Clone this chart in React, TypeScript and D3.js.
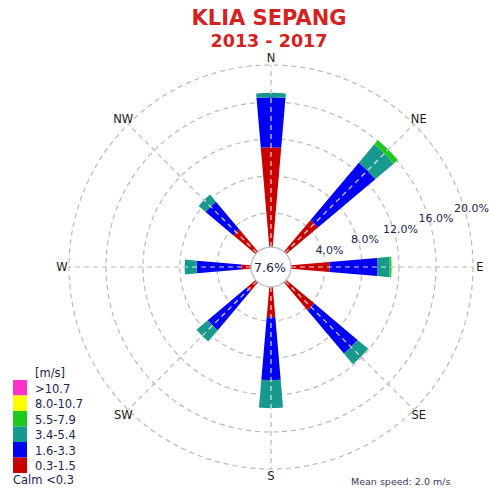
import React from 'react';
import * as d3 from 'd3';

const directions = ["N", "NE", "E", "SE", "S", "SW", "W", "NW"];
// % frequency per direction, one array per speed class (m/s)
const calm03 = 7.6;
const spd03_15 = [11.1, 4.8, 4.5, 4.3, 3.6, 1.6, 1.4, 3.5];
const spd16_33 = [5.4, 8.1, 5.2, 6.1, 6.8, 5.5, 4.8, 3.9];
const spd34_54 = [0.5, 2.6, 1.3, 1.5, 3.0, 1.6, 1.3, 1.0];
const spd55_79 = [0, 0.6, 0.2, 0, 0, 0, 0, 0];
const spd80_107 = [0, 0, 0, 0, 0, 0, 0, 0];
const spd107 = [0, 0, 0, 0, 0, 0, 0, 0];
const binLabels = ["0.3-1.5", "1.6-3.3", "3.4-5.4", "5.5-7.9", "8.0-10.7", ">10.7"];
const binColors = ["#c80000", "#0000f5", "#17998d", "#1ec81e", "#ffff00", "#ff33cc"];
const ringTicks = [4, 8, 12, 16, 20];
const meanSpeed = "2.0";

const W = 489, H = 490;
const cx = 271, cy = 267;
const calmR = 20;
const textCol = "#22224e";
const font = "DejaVu Sans, sans-serif";

export default function App() {
  const r = d3.scaleLinear().domain([0, 20]).range([17, 202]);
  const ang = d3.scaleLinear().domain([0, 8]).range([0, 2 * Math.PI]);
  const half = (9.8 / 2) * Math.PI / 180;
  const bins = [spd03_15, spd16_33, spd34_54, spd55_79, spd80_107, spd107];
  const arc = d3.arc();

  const pt = (a: number, rad: number) => [cx + rad * Math.sin(a), cy - rad * Math.cos(a)];

  const petals: any[] = [];
  directions.forEach((d, i) => {
    let base = 0;
    bins.forEach((b, j) => {
      const v = b[i];
      if (v <= 0) return;
      petals.push({
        key: d + j,
        path: arc({
          innerRadius: r(base),
          outerRadius: r(base + v),
          startAngle: ang(i) - half,
          endAngle: ang(i) + half,
        } as any),
        color: binColors[j],
      });
      base += v;
    });
  });
  const totals = directions.map((d, i) => d3.sum(bins, b => b[i]));

  const labelR = 209;
  const ringLabelA = (73.5 * Math.PI) / 180;

  return (
    <svg width={W} height={H} style={{ position: "absolute", left: 0, top: 0, background: "#fff" }}
      fontFamily={font}>
      <text x={269} y={25} textAnchor="middle" fontSize={21} fontWeight="bold" fill="#d42222">KLIA SEPANG</text>
      <text x={269} y={47} textAnchor="middle" fontSize={17.5} fontWeight="bold" fill="#d42222">2013 - 2017</text>

      {/* grid */}
      <g fill="none" stroke="#b8b8b8" strokeWidth={1.2} strokeDasharray="5,4">
        {ringTicks.map(t => <circle key={t} cx={cx} cy={cy} r={r(t)} />)}
        {directions.map((d, i) => {
          const [x1, y1] = pt(ang(i), calmR);
          const [x2, y2] = pt(ang(i), r(20));
          return <line key={d} x1={x1} y1={y1} x2={x2} y2={y2} />;
        })}
      </g>

      {/* petals */}
      <g transform={`translate(${cx},${cy})`}>
        {petals.map(p => <path key={p.key} d={p.path} fill={p.color} />)}
      </g>
      <g fill="none" stroke="#ffffff" strokeOpacity={0.85} strokeWidth={1.2} strokeDasharray="5,4">
        {directions.map((d, i) => {
          const [x1, y1] = pt(ang(i), calmR);
          const [x2, y2] = pt(ang(i), r(totals[i]));
          return <line key={d} x1={x1} y1={y1} x2={x2} y2={y2} />;
        })}
      </g>

      <circle cx={cx} cy={cy} r={calmR} fill="#fff" stroke="#bdbdbd" strokeWidth={1.3} />
      <text x={cx - 1} y={cy + 4.5} textAnchor="middle" fontSize={12.5} fill={textCol}>{calm03}%</text>

      {/* direction labels */}
      {directions.map((d, i) => {
        const [x, y] = pt(ang(i), labelR);
        return <text key={d} x={x} y={y + 4} textAnchor="middle" fontSize={11.5} fill="#1a1a1a">{d}</text>;
      })}

      {/* ring labels */}
      {ringTicks.map(t => {
        const [x, y] = pt(ringLabelA, r(t) + 7);
        return <text key={t} x={x} y={y + 4} textAnchor="middle" fontSize={11} fill={textCol}>{t.toFixed(1)}%</text>;
      })}

      {/* legend */}
      <text x={35} y={377} fontSize={11.5} fill={textCol}>[m/s]</text>
      {binLabels.slice().reverse().map((l, k) => {
        const j = binLabels.length - 1 - k;
        const y0 = 380 + k * 15.5;
        return (
          <g key={l}>
            <rect x={13} y={y0} width={14} height={15.5} fill={binColors[j]} />
            <text x={35} y={y0 + 12.5} fontSize={11.5} fill={textCol}>{l}</text>
          </g>
        );
      })}
      <text x={13} y={484} fontSize={11.5} fill={textCol}>Calm {"<0.3"}</text>

      <text x={351} y={485} fontSize={9.5} fill="#3a3a5a">Mean speed: {meanSpeed} m/s</text>
    </svg>
  );
}
